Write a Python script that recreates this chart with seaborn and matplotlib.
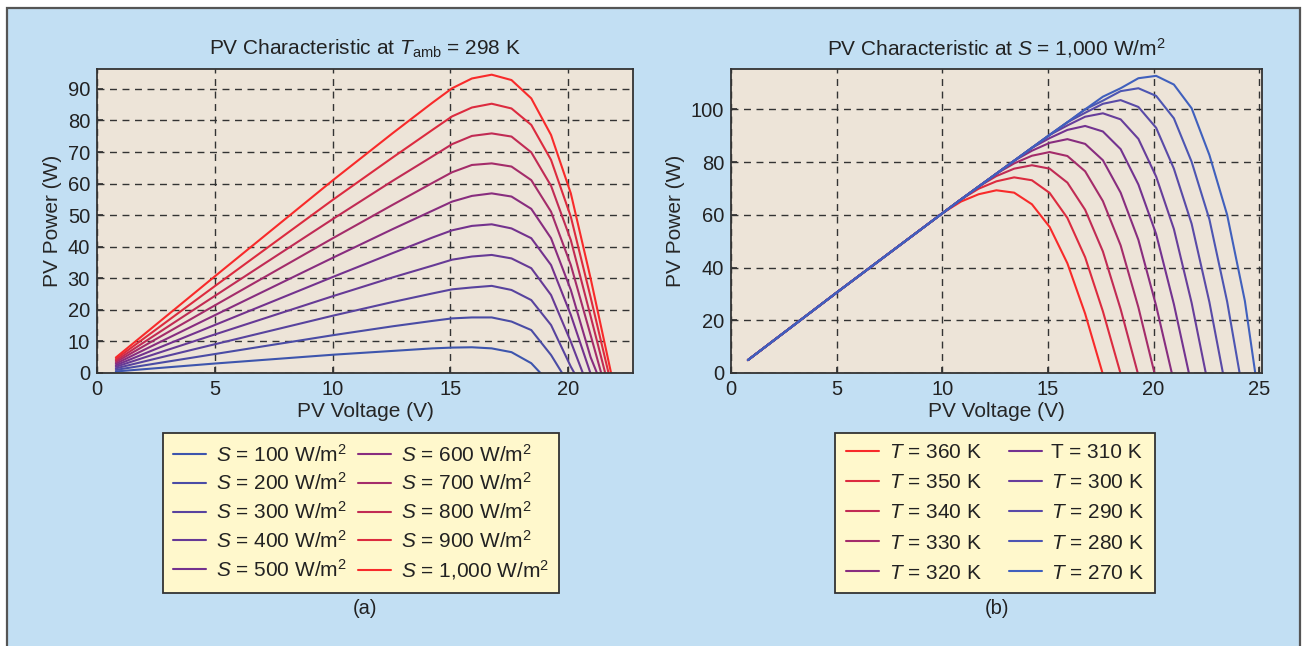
import numpy as np
import pandas as pd
import seaborn as sns
import matplotlib.pyplot as plt
from matplotlib.patches import Rectangle

# (a) PV power vs voltage at T_amb = 298 K, one curve per irradiance
volt_a = [0.8, 5.0, 10.04, 12.56, 14.24, 15.08, 15.92, 16.76, 17.6, 18.44,
          19.28, 20.12, 20.96, 21.8, 22.64]
irr = [100, 200, 300, 400, 500, 600, 700, 800, 900, 1000]
s100 = [0.49, 3.0, 5.8, 7.0, 7.8, 8.05, 8.15, 7.8, 6.6, 3.1, -3.6]
s200 = [0.98, 6.0, 12.0, 14.8, 16.5, 17.3, 17.6, 17.6, 16.3, 13.6, 5.7, -4.5]
s300 = [1.47, 9.1, 18.2, 22.5, 25.2, 26.5, 27.1, 27.6, 26.3, 23.1, 15.2, 2.0, -9.2]
s400 = [1.97, 12.2, 24.4, 30.3, 34.0, 35.9, 36.9, 37.4, 36.3, 33.2, 24.7, 9.9, -6.4]
s500 = [2.45, 15.2, 30.5, 38.0, 42.9, 45.2, 46.6, 47.1, 45.8, 42.7, 34.2, 18.4, -0.2]
s600 = [2.95, 18.3, 36.6, 45.6, 51.4, 54.3, 56.1, 56.9, 55.9, 52.0, 42.7, 26.3, 5.0, -10.6]
s700 = [3.45, 21.4, 42.8, 53.3, 60.2, 63.6, 65.9, 66.4, 65.4, 61.1, 51.1, 34.2, 12.0, -10.4]
s800 = [3.9, 24.4, 48.9, 60.9, 68.6, 72.5, 75.1, 75.9, 74.9, 69.9, 59.3, 42.1, 18.0, -6.4]
s900 = [4.4, 27.5, 55.0, 68.3, 77.0, 81.3, 84.1, 85.3, 83.8, 78.6, 67.5, 49.5, 24.0, -2.5]
s1000 = [4.9, 30.6, 61.2, 76.0, 85.6, 90.2, 93.3, 94.5, 92.8, 87.0, 75.4, 56.9, 30.0, 1.0, -30.0]
power_a = [s100, s200, s300, s400, s500, s600, s700, s800, s900, s1000]

# (b) PV power vs voltage at S = 1,000 W/m2, one curve per cell temperature
volt_b = [0.8, 5.0, 10.04, 10.88, 11.72, 12.56, 13.4, 14.24, 15.08, 15.92,
          16.76, 17.6, 18.44, 19.28, 20.12, 20.96, 21.8, 22.64, 23.48, 24.32, 25.16]
temp_labels = ["$T$ = 360 K", "$T$ = 350 K", "$T$ = 340 K", "$T$ = 330 K",
               "$T$ = 320 K", "T = 310 K", "$T$ = 300 K", "$T$ = 290 K",
               "$T$ = 280 K", "$T$ = 270 K"]
t360 = [4.9, 30.5, 60.8, 65.0, 67.8, 69.3, 68.4, 64.0, 55.4, 41.6, 22.5, -0.5]
t350 = [4.9, 30.5, 60.8, 65.8, 69.9, 72.7, 74.2, 73.1, 68.3, 58.8, 43.9, 23.4, -0.3]
t340 = [4.9, 30.5, 60.8, 65.8, 70.7, 74.7, 77.5, 78.8, 77.5, 72.2, 61.9, 46.1, 24.2, -0.9]
t330 = [4.9, 30.5, 60.8, 65.8, 70.7, 75.6, 79.5, 82.4, 83.8, 82.3, 76.5, 65.2, 48.4, 24.9, -2.6]
t320 = [4.9, 30.5, 60.8, 65.8, 70.7, 75.6, 80.5, 84.3, 87.3, 88.7, 86.9, 80.7, 68.4, 50.5,
        25.5, -3.4]
t310 = [4.9, 30.5, 60.8, 65.8, 70.7, 75.6, 80.5, 85.4, 89.1, 92.2, 93.7, 91.6, 84.9, 71.5,
        52.7, 26.1, -4.8]
t300 = [4.9, 30.5, 60.8, 65.8, 70.7, 75.6, 80.5, 85.4, 90.3, 93.9, 97.2, 98.5, 96.2, 88.8,
        74.5, 54.6, 26.6, -6.8]
t290 = [4.9, 30.5, 60.8, 65.8, 70.7, 75.6, 80.5, 85.4, 90.3, 95.1, 98.7, 102.1, 103.5, 100.9,
        93.0, 77.5, 56.6, 26.9, -8.4]
t280 = [4.9, 30.5, 60.8, 65.8, 70.7, 75.6, 80.5, 85.4, 90.3, 95.1, 100.0, 103.3, 106.9, 108.0,
        105.1, 96.6, 80.1, 58.3, 27.1, -11.5]
t270 = [4.9, 30.5, 60.8, 65.8, 70.7, 75.6, 80.5, 85.4, 90.3, 95.1, 100.0, 104.8, 108.0, 111.8,
        112.7, 109.4, 100.4, 82.7, 60.0, 27.3, -19.5]
power_b = [t360, t350, t340, t330, t320, t310, t300, t290, t280, t270]

irr_labels = [f"$S$ = {s:,} W/m$^2$" for s in irr]


def long_form(volts, curves, labels):
    rows = []
    for lab, p in zip(labels, curves):
        for v, w in zip(volts, p):
            rows.append((v, w, lab))
    return pd.DataFrame(rows, columns=["V", "P", "curve"])


df_a = long_form(volt_a, power_a, irr_labels)
df_b = long_form(volt_b, power_b, temp_labels)

sns.set_theme(style="white")
plt.rcParams["font.family"] = ["Liberation Sans", "DejaVu Sans"]
plt.rcParams["mathtext.fontset"] = "custom"
plt.rcParams["mathtext.rm"] = "Liberation Sans"
plt.rcParams["mathtext.it"] = "Liberation Sans:italic"
plt.rcParams["mathtext.bf"] = "Liberation Sans:bold"
plt.rcParams["text.color"] = "#222222"

W, H = 1304, 646
fig = plt.figure(figsize=(W / 100, H / 100), dpi=100)
fig.patch.set_facecolor("white")
fig.add_artist(Rectangle((7 / W, -0.02), 1293 / W, (H - 8) / H + 0.02,
                         transform=fig.transFigure, facecolor="#c2dff3",
                         edgecolor="#555555", lw=1.6, zorder=-10))

pal_a = sns.blend_palette(["#3d55ad", "#7a2d8a", "#f82a2a"], 10)
pal_b = sns.blend_palette(["#f82a2a", "#7a2d8a", "#4060bd"], 10)

ax_a = fig.add_axes([97 / W, 1 - 373 / H, 536 / W, 304 / H])
ax_b = fig.add_axes([731 / W, 1 - 373 / H, 531 / W, 304 / H])

sns.lineplot(data=df_a, x="V", y="P", hue="curve", hue_order=irr_labels,
             palette=pal_a, lw=1.5, errorbar=None, legend=False, ax=ax_a)
sns.lineplot(data=df_b, x="V", y="P", hue="curve", hue_order=temp_labels,
             palette=pal_b, lw=1.5, errorbar=None, legend=False, ax=ax_b)

ax_a.set_xlim(0, 22.76)
ax_a.set_ylim(0, 96.3)
ax_a.set_xticks([0, 5, 10, 15, 20])
ax_a.set_yticks(range(0, 91, 10))
ax_a.set_title("PV Characteristic at $T_{\\mathrm{amb}}$ = 298 K", fontsize=15, pad=10)

ax_b.set_xlim(0, 25.13)
ax_b.set_ylim(0, 115.3)
ax_b.set_xticks([0, 5, 10, 15, 20, 25])
ax_b.set_yticks([0, 20, 40, 60, 80, 100])
ax_b.set_title("PV Characteristic at $S$ = 1,000 W/m$^2$", fontsize=15, pad=10)

legend_opts = [
    (ax_a, irr_labels, 361, 0.33, 0.55),
    (ax_b, temp_labels, 995, 0.53, 1.3),
]
for ax, labels, cx, lspace, cspace in legend_opts:
    ax.set_facecolor("#ede4d8")
    ax.set_axisbelow(True)
    ax.grid(True, linestyle=(0, (5, 4)), color="#333333", lw=1.0)
    for sp in ax.spines.values():
        sp.set_color("#333333")
        sp.set_linewidth(1.3)
    ax.tick_params(direction="in", length=4, color="#333333", labelsize=14.5,
                   labelcolor="#222222", bottom=True, left=True, pad=5)
    ax.set_xlabel("PV Voltage (V)", fontsize=15, labelpad=2)
    ax.set_ylabel("PV Power (W)", fontsize=15, labelpad=4)
    handles = ax.get_lines()[:len(labels)]
    leg = ax.legend(handles, labels, ncol=2, loc="upper center",
                    bbox_to_anchor=(cx / W, 1 - 433 / H), bbox_transform=fig.transFigure,
                    borderaxespad=0, fontsize=15, frameon=True, fancybox=False,
                    framealpha=1, facecolor="#fff8cc", edgecolor="#333333",
                    handlelength=1.6, handletextpad=0.45, columnspacing=cspace,
                    labelspacing=lspace, borderpad=0.5)
    leg.get_frame().set_linewidth(1.3)

fig.text(365 / W, 1 - 608 / H, "(a)", ha="center", va="center", fontsize=14.5)
fig.text(997 / W, 1 - 608 / H, "(b)", ha="center", va="center", fontsize=14.5)

fig.savefig("out.png", dpi=100)
